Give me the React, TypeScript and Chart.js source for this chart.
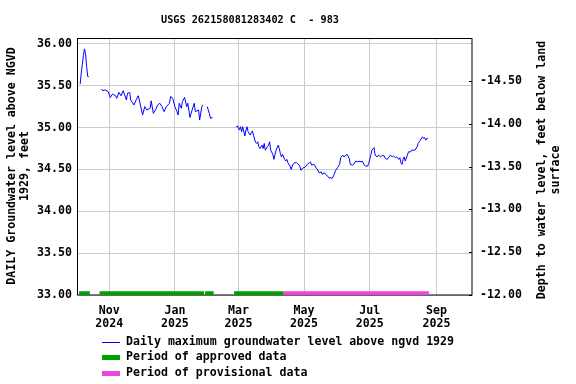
import React, { useEffect, useRef } from "react";
import { Chart, registerables } from "chart.js";

Chart.register(...registerables);

// ---------- text ----------
const TITLE = "USGS 262158081283402 C  - 983";
const LEFT_AXIS_TITLE = ["DAILY Groundwater level above NGVD", "1929, feet"];
const RIGHT_AXIS_TITLE = ["Depth to water level, feet below land", "surface"];
const LEGEND_LABELS = [
  "Daily maximum groundwater level above ngvd 1929",
  "Period of approved data",
  "Period of provisional data",
];
const LEGEND_COLORS = ["#0000ff", "#00a000", "#ee44dd"];

// ---------- axes (x = days since 2024-10-01) ----------
const X_MIN = 2;
const X_MAX = 368;
const MONTH_TICK_DAYS = [31, 92, 151, 212, 273, 335];
const MONTH_TICK_LABELS = [
  ["Nov", "2024"],
  ["Jan", "2025"],
  ["Mar", "2025"],
  ["May", "2025"],
  ["Jul", "2025"],
  ["Sep", "2025"],
];
const LEFT_MIN = 33;
const LEFT_MAX = 36.07;
const LEFT_TICKS = [33, 33.5, 34, 34.5, 35, 35.5, 36];
const RIGHT_MIN = -15;
const RIGHT_MAX = -12;
const RIGHT_TICKS = [-14.5, -14, -13.5, -13, -12.5, -12];

// ---------- groundwater level series (segments separated by gaps) ----------
const segADays = [4, 5, 6, 7, 8, 9, 10, 11, 12];
const segALevels = [35.52, 35.65, 35.75, 35.86, 35.94, 35.88, 35.73, 35.61, 35.61];

const segBDays = [
  24, 25, 27, 30, 32, 34, 37, 38, 40, 42,
  44, 45, 47, 48, 50, 51, 54, 56, 58, 60,
  62, 64, 66, 69, 70, 72, 74, 76, 78, 80,
  82, 84, 87, 88, 90, 92, 94, 95, 96, 98,
  99, 101, 103, 104, 106, 108, 110, 111, 114, 115,
  117, 118,
];
const segBLevels = [
  35.46, 35.44, 35.45, 35.43, 35.36, 35.40, 35.38, 35.35, 35.42, 35.38,
  35.44, 35.40, 35.33, 35.41, 35.42, 35.33, 35.27, 35.33, 35.38, 35.27,
  35.15, 35.25, 35.21, 35.23, 35.32, 35.17, 35.21, 35.27, 35.29, 35.25,
  35.19, 35.25, 35.29, 35.37, 35.35, 35.25, 35.19, 35.15, 35.29, 35.23,
  35.31, 35.36, 35.25, 35.29, 35.12, 35.21, 35.29, 35.19, 35.21, 35.09,
  35.25, 35.27,
];

const segCDays = [122, 124, 125, 127];
const segCLevels = [35.25, 35.17, 35.11, 35.12];

const segDDays = [
  149, 150, 152, 153, 154, 155, 157, 158, 159, 160,
  162, 163, 164, 165, 167, 168, 169, 170, 171, 173,
  174, 175, 176, 178, 179, 180, 181, 183, 184, 185,
  186, 188, 189, 190, 191, 192, 194, 195, 196, 197,
  199, 200, 201, 202, 203, 205, 206, 208, 209, 211,
  212, 214, 215, 217, 218, 219, 221, 222, 223, 224,
  226, 228, 229, 231, 232, 234, 235, 237, 238, 240,
  241, 243, 245, 246, 248, 249, 251, 252, 254, 255,
  257, 258, 260, 262, 263, 265, 266, 268, 269, 271,
  272, 274, 275, 277, 278, 280, 281, 283, 284, 286,
  287, 289, 290, 292, 294, 295, 297, 298, 300, 301,
  302, 303, 304, 305, 306, 308, 309, 311, 312, 314,
  315, 317, 318, 319, 320, 322, 323, 324, 325, 326,
  327,
];
const segDLevels = [
  35.01, 35.02, 34.97, 35.01, 34.95, 35.01, 34.90, 34.97, 35.01, 34.95,
  34.91, 34.94, 34.96, 34.91, 34.82, 34.81, 34.83, 34.77, 34.75, 34.79,
  34.75, 34.81, 34.73, 34.77, 34.79, 34.83, 34.73, 34.68, 34.62, 34.68,
  34.73, 34.79, 34.75, 34.69, 34.65, 34.68, 34.62, 34.60, 34.62, 34.58,
  34.54, 34.50, 34.54, 34.57, 34.58, 34.58, 34.57, 34.54, 34.49, 34.52,
  34.52, 34.54, 34.56, 34.58, 34.59, 34.55, 34.56, 34.55, 34.52, 34.51,
  34.46, 34.47, 34.44, 34.46, 34.44, 34.42, 34.40, 34.40, 34.39, 34.44,
  34.48, 34.52, 34.56, 34.64, 34.67, 34.65, 34.67, 34.68, 34.63, 34.56,
  34.55, 34.56, 34.60, 34.59, 34.60, 34.59, 34.60, 34.55, 34.54, 34.54,
  34.57, 34.67, 34.73, 34.76, 34.67, 34.65, 34.67, 34.65, 34.66, 34.67,
  34.64, 34.62, 34.63, 34.67, 34.65, 34.66, 34.64, 34.65, 34.62, 34.64,
  34.58, 34.56, 34.62, 34.65, 34.60, 34.67, 34.71, 34.71, 34.73, 34.73,
  34.73, 34.77, 34.81, 34.83, 34.85, 34.89, 34.87, 34.88, 34.85, 34.87,
  34.87,
];

// ---------- approval periods ----------
const approvedStart = [3, 22, 120, 147];
const approvedEnd = [13, 119, 128, 193];
const provisionalStart = [193];
const provisionalEnd = [328];
const PERIOD_LEVEL = 33.02;

const FONT = '"DejaVu Sans Mono", monospace';

type Pt = { x: number; y: number | null };

function buildLevelData(): Pt[] {
  const segs: [number[], number[]][] = [
    [segADays, segALevels],
    [segBDays, segBLevels],
    [segCDays, segCLevels],
    [segDDays, segDLevels],
  ];
  const out: Pt[] = [];
  segs.forEach(([d, v], i) => {
    d.forEach((day, j) => out.push({ x: day, y: v[j] }));
    if (i < segs.length - 1) out.push({ x: d[d.length - 1] + 1, y: null });
  });
  return out;
}

function buildPeriodData(starts: number[], ends: number[]): Pt[] {
  const out: Pt[] = [];
  starts.forEach((s, i) => {
    out.push({ x: s, y: PERIOD_LEVEL });
    out.push({ x: ends[i], y: PERIOD_LEVEL });
    out.push({ x: ends[i], y: null });
  });
  return out;
}

const overlayPlugin = {
  id: "overlay",
  beforeDatasetsDraw(chart: any) {
    const { ctx, chartArea: a } = chart;
    ctx.save();
    ctx.strokeStyle = "#000";
    ctx.lineWidth = 1;
    ctx.strokeRect(
      Math.round(a.left) - 0.5,
      Math.round(a.top) + 0.5,
      Math.round(a.right - a.left) + 0.5,
      Math.round(a.bottom - a.top) - 0.5
    );
    // right axis inward tick marks
    const rs = chart.scales.yRight;
    RIGHT_TICKS.forEach((v) => {
      const y = Math.round(rs.getPixelForValue(v)) + 0.5;
      ctx.beginPath();
      ctx.moveTo(a.right - 3, y);
      ctx.lineTo(a.right, y);
      ctx.stroke();
    });
    ctx.restore();
  },
  afterDraw(chart: any) {
    const { ctx } = chart;
    ctx.save();
    ctx.fillStyle = "#000";
    // title
    ctx.font = `bold 10.2px ${FONT}`;
    ctx.textAlign = "center";
    ctx.textBaseline = "middle";
    ctx.fillText(TITLE, 250, 20);

    // axis titles
    ctx.font = `bold 11.6px ${FONT}`;
    const drawRot = (text: string, x: number, y: number) => {
      ctx.save();
      ctx.translate(x, y);
      ctx.rotate(-Math.PI / 2);
      ctx.fillText(text, 0, 0);
      ctx.restore();
    };
    drawRot(LEFT_AXIS_TITLE[0], 12, 166);
    drawRot(LEFT_AXIS_TITLE[1], 25, 166);
    drawRot(RIGHT_AXIS_TITLE[0], 542, 170);
    drawRot(RIGHT_AXIS_TITLE[1], 556, 170);

    // legend
    const widths = [1, 5, 5];
    LEGEND_LABELS.forEach((label, i) => {
      const y = 341.5 + 15.6 * i;
      ctx.strokeStyle = LEGEND_COLORS[i];
      ctx.lineWidth = widths[i];
      ctx.beginPath();
      ctx.moveTo(102, Math.round(y) + (widths[i] % 2 ? 0.5 : 0));
      ctx.lineTo(120, Math.round(y) + (widths[i] % 2 ? 0.5 : 0));
      ctx.stroke();
      ctx.fillStyle = "#000";
      ctx.textAlign = "left";
      ctx.textBaseline = "middle";
      ctx.fillText(label, 126, y);
    });
    ctx.restore();
  },
};

export default function App() {
  const canvasRef = useRef<HTMLCanvasElement | null>(null);

  useEffect(() => {
    if (!canvasRef.current) return;
    const tickFont = { family: FONT, size: 11.6, weight: "bold" as const, lineHeight: 1.1 };
    const chart = new Chart(canvasRef.current, {
      type: "line",
      data: {
        datasets: [
          {
            label: LEGEND_LABELS[0],
            data: buildLevelData() as any,
            borderColor: LEGEND_COLORS[0],
            borderWidth: 1,
            pointRadius: 0,
            spanGaps: false,
            tension: 0,
            yAxisID: "y",
          },
          {
            label: LEGEND_LABELS[1],
            data: buildPeriodData(approvedStart, approvedEnd) as any,
            borderColor: LEGEND_COLORS[1],
            borderWidth: 4,
            pointRadius: 0,
            spanGaps: false,
            borderCapStyle: "butt",
            yAxisID: "y",
          },
          {
            label: LEGEND_LABELS[2],
            data: buildPeriodData(provisionalStart, provisionalEnd) as any,
            borderColor: LEGEND_COLORS[2],
            borderWidth: 4,
            pointRadius: 0,
            spanGaps: false,
            borderCapStyle: "butt",
            yAxisID: "y",
          },
        ],
      },
      options: {
        responsive: false,
        animation: false,
        devicePixelRatio: 1,
        layout: { padding: { top: 38, left: 0, right: 0, bottom: 0 } },
        plugins: {
          legend: { display: false },
          title: { display: false },
          tooltip: { enabled: false },
        },
        scales: {
          x: {
            type: "linear",
            min: X_MIN,
            max: X_MAX,
            afterBuildTicks: (s: any) => {
              s.ticks = MONTH_TICK_DAYS.map((v) => ({ value: v }));
            },
            afterFit: (s: any) => {
              s.height = 89;
            },
            ticks: {
              autoSkip: false,
              maxRotation: 0,
              color: "#000",
              font: tickFont,
              padding: 10,
              callback: (_v: any, i: number) => MONTH_TICK_LABELS[i],
            },
            grid: { color: "#cccccc", drawTicks: false, lineWidth: 1 },
            border: { display: false },
          },
          y: {
            type: "linear",
            position: "left",
            min: LEFT_MIN,
            max: LEFT_MAX,
            afterBuildTicks: (s: any) => {
              s.ticks = LEFT_TICKS.map((v) => ({ value: v }));
            },
            afterFit: (s: any) => {
              s.width = 78;
            },
            ticks: {
              color: "#000",
              font: tickFont,
              padding: 6,
              callback: (v: any) => Number(v).toFixed(2),
            },
            grid: { color: "#cccccc", drawTicks: false, lineWidth: 1 },
            border: { display: false },
          },
          yRight: {
            type: "linear",
            position: "right",
            min: RIGHT_MIN,
            max: RIGHT_MAX,
            reverse: true,
            afterBuildTicks: (s: any) => {
              s.ticks = RIGHT_TICKS.map((v) => ({ value: v }));
            },
            afterFit: (s: any) => {
              s.width = 104;
            },
            ticks: {
              color: "#000",
              font: tickFont,
              padding: 8,
              callback: (v: any) => Number(v).toFixed(2),
            },
            grid: { drawOnChartArea: false, drawTicks: false },
            border: { display: false },
          },
        },
      },
      plugins: [overlayPlugin],
    });
    return () => chart.destroy();
  }, []);

  return (
    <div style={{ position: "fixed", left: 0, top: 0, width: 576, height: 384, background: "#fff" }}>
      <canvas ref={canvasRef} width={576} height={384} style={{ width: 576, height: 384 }} />
    </div>
  );
}
